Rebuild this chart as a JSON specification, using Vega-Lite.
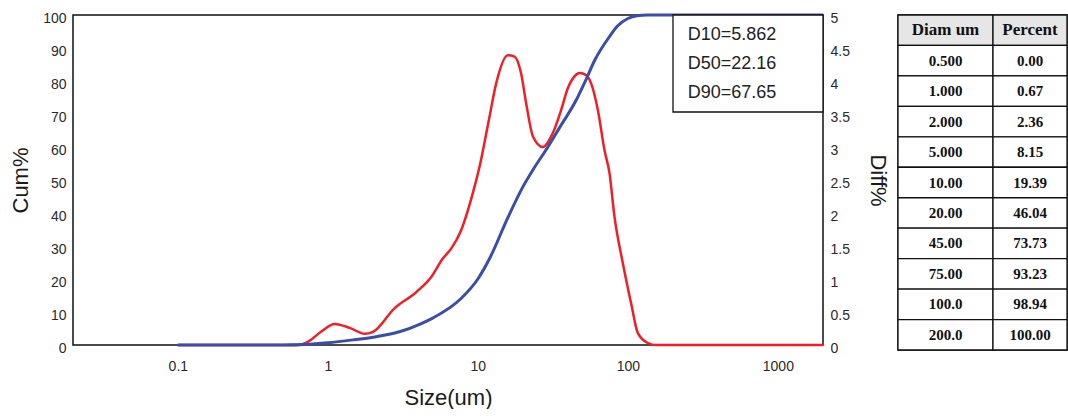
{
  "$schema": "https://vega.github.io/schema/vega-lite/v6.json",
  "padding": {"left": 8, "top": 8, "right": 0, "bottom": 0},
  "background": "white",
  "config": {
    "view": {"stroke": "#111", "strokeWidth": 1.5},
    "axis": {"labelFont": "Liberation Sans", "labelFontSize": 14, "labelColor": "#2a2a2a", "titleFont": "Liberation Sans", "titleFontSize": 22, "titleFontWeight": "normal", "titleColor": "#1a1a1a", "ticks": false, "domain": false, "grid": false}
  },
  "datasets": {
    "cum": [
      {"size": 0.1, "cum": 0}, {"size": 0.5, "cum": 0}, {"size": 0.7, "cum": 0.15}, {"size": 1.0, "cum": 0.67},
      {"size": 1.5, "cum": 1.6}, {"size": 2.0, "cum": 2.36}, {"size": 3.0, "cum": 4.0}, {"size": 4.2, "cum": 6.5},
      {"size": 5.0, "cum": 8.15}, {"size": 7.7, "cum": 14.0}, {"size": 10, "cum": 20.0}, {"size": 12, "cum": 26.3},
      {"size": 15.85, "cum": 38.6}, {"size": 20, "cum": 48.0}, {"size": 24, "cum": 54.0}, {"size": 29.3, "cum": 60.0},
      {"size": 35, "cum": 65.8}, {"size": 45, "cum": 74.0}, {"size": 52.7, "cum": 80.5}, {"size": 60, "cum": 86.2},
      {"size": 75, "cum": 93.3}, {"size": 85, "cum": 96.6}, {"size": 100, "cum": 98.94}, {"size": 115, "cum": 99.8},
      {"size": 135, "cum": 100}, {"size": 200, "cum": 100}, {"size": 2000, "cum": 100}
    ],
    "diff": [
      {"size": 0.1, "diff": 0}, {"size": 0.63, "diff": 0}, {"size": 0.75, "diff": 0.06}, {"size": 0.9, "diff": 0.2},
      {"size": 1.11, "diff": 0.32}, {"size": 1.4, "diff": 0.26}, {"size": 1.76, "diff": 0.17}, {"size": 2.0, "diff": 0.2},
      {"size": 2.78, "diff": 0.556}, {"size": 3.88, "diff": 0.8}, {"size": 4.89, "diff": 1.03}, {"size": 5.84, "diff": 1.31},
      {"size": 6.64, "diff": 1.46}, {"size": 7.74, "diff": 1.74}, {"size": 9.26, "diff": 2.3}, {"size": 10.26, "diff": 2.7},
      {"size": 11.96, "diff": 3.46}, {"size": 13.24, "diff": 3.96}, {"size": 15.85, "diff": 4.39}, {"size": 17.55, "diff": 4.37},
      {"size": 19.4, "diff": 4.12}, {"size": 21.0, "diff": 3.66}, {"size": 23.3, "diff": 3.16}, {"size": 27.1, "diff": 3.0},
      {"size": 31.6, "diff": 3.21}, {"size": 35.9, "diff": 3.56}, {"size": 39.8, "diff": 3.89}, {"size": 44.1, "diff": 4.07},
      {"size": 47.6, "diff": 4.12}, {"size": 52.7, "diff": 4.09}, {"size": 57, "diff": 3.96}, {"size": 63.1, "diff": 3.56},
      {"size": 69.9, "diff": 2.95}, {"size": 75.5, "diff": 2.6}, {"size": 81.5, "diff": 1.94}, {"size": 92.6, "diff": 1.24},
      {"size": 105.2, "diff": 0.63}, {"size": 116.6, "diff": 0.18}, {"size": 136, "diff": 0.03}, {"size": 154.5, "diff": 0},
      {"size": 2000, "diff": 0}
    ],
    "stats": [
      {"label": "D10=5.862\nD50=22.16\nD90=67.65"}
    ],
    "table": [
      {"diam": "Diam um", "percent": "Percent"},
      {"diam": "0.500", "percent": "0.00"},
      {"diam": "1.000", "percent": "0.67"},
      {"diam": "2.000", "percent": "2.36"},
      {"diam": "5.000", "percent": "8.15"},
      {"diam": "10.00", "percent": "19.39"},
      {"diam": "20.00", "percent": "46.04"},
      {"diam": "45.00", "percent": "73.73"},
      {"diam": "75.00", "percent": "93.23"},
      {"diam": "100.0", "percent": "98.94"},
      {"diam": "200.0", "percent": "100.00"}
    ]
  },
  "hconcat": [
    {
      "width": 750,
      "height": 330,
      "layer": [
        {
          "data": {"name": "diff"},
          "mark": {"type": "line", "color": "#ee1f26", "strokeWidth": 2.5, "interpolate": "monotone"},
          "encoding": {
            "x": {"field": "size", "type": "quantitative", "scale": {"type": "log", "domain": [0.02, 2000], "nice": false},
                  "axis": {"values": [0.1, 1, 10, 100, 1000], "format": "~g", "title": "Size(um)", "labelPadding": 14, "titlePadding": 14, "labelFlush": false}},
            "y": {"field": "diff", "type": "quantitative", "scale": {"domain": [0, 5], "nice": false, "zero": true},
                  "axis": {"orient": "right", "values": [0, 0.5, 1, 1.5, 2, 2.5, 3, 3.5, 4, 4.5, 5], "format": "~g", "title": "Diff%", "labelPadding": 7, "labelOffset": 3, "titlePadding": 16, "labelFlush": false}}
          }
        },
        {
          "data": {"name": "cum"},
          "mark": {"type": "line", "color": "#3a4ea8", "strokeWidth": 3, "interpolate": "monotone"},
          "encoding": {
            "x": {"field": "size", "type": "quantitative"},
            "y": {"field": "cum", "type": "quantitative", "scale": {"domain": [0, 100], "nice": false},
                  "axis": {"orient": "left", "values": [0, 10, 20, 30, 40, 50, 60, 70, 80, 90, 100], "title": "Cum%", "labelPadding": 7, "labelOffset": 3, "titlePadding": 10, "labelFlush": false}}
          }
        },
        {
          "data": {"values": [{}]},
          "mark": {"type": "rect", "fill": "white", "stroke": "#111", "strokeWidth": 1.3},
          "encoding": {
            "x": {"datum": 200, "type": "quantitative"},
            "x2": {"datum": 2000},
            "y": {"datum": 70.6, "type": "quantitative", "scale": {"domain": [0, 100], "nice": false}, "axis": null},
            "y2": {"datum": 100}
          }
        },
        {
          "data": {"name": "stats"},
          "mark": {"type": "text", "align": "left", "baseline": "middle", "font": "Liberation Sans", "fontSize": 18, "color": "#222", "lineBreak": "\n", "lineHeight": 29},
          "encoding": {
            "x": {"datum": 251, "type": "quantitative"},
            "y": {"datum": 93.9, "type": "quantitative", "scale": {"domain": [0, 100], "nice": false}, "axis": null},
            "text": {"field": "label", "type": "nominal"}
          }
        }
      ],
      "resolve": {"scale": {"y": "independent"}, "axis": {"y": "independent"}}
    },
    {
      "width": 169,
      "height": 335,
      "data": {"name": "table"},
      "layer": [
        {
          "mark": {"type": "rect", "stroke": "#111", "strokeWidth": 1.3},
          "encoding": {
            "x": {"datum": 0, "type": "quantitative", "scale": {"domain": [0, 169], "nice": false, "zero": false}, "axis": null},
            "x2": {"datum": 95},
            "y": {"field": "diam", "type": "ordinal", "sort": null, "scale": {"paddingInner": 0, "paddingOuter": 0}, "axis": null},
            "fill": {"condition": {"test": "datum.diam === 'Diam um'", "value": "#e6e6e6"}, "value": "white"}
          }
        },
        {
          "mark": {"type": "rect", "stroke": "#111", "strokeWidth": 1.3},
          "encoding": {
            "x": {"datum": 95, "type": "quantitative"},
            "x2": {"datum": 169},
            "y": {"field": "diam", "type": "ordinal", "sort": null},
            "fill": {"condition": {"test": "datum.diam === 'Diam um'", "value": "#e6e6e6"}, "value": "white"}
          }
        },
        {
          "mark": {"type": "text", "align": "center", "baseline": "middle", "font": "Liberation Serif", "fontWeight": "bold", "color": "#111"},
          "encoding": {
            "x": {"datum": 47.5, "type": "quantitative"},
            "y": {"field": "diam", "type": "ordinal", "sort": null, "band": 0.5},
            "text": {"field": "diam", "type": "nominal"},
            "size": {"condition": {"test": "datum.diam === 'Diam um'", "value": 17}, "value": 15}
          }
        },
        {
          "mark": {"type": "text", "align": "center", "baseline": "middle", "font": "Liberation Serif", "fontWeight": "bold", "color": "#111"},
          "encoding": {
            "x": {"datum": 132, "type": "quantitative"},
            "y": {"field": "diam", "type": "ordinal", "sort": null, "band": 0.5},
            "text": {"field": "percent", "type": "nominal"},
            "size": {"condition": {"test": "datum.diam === 'Diam um'", "value": 17}, "value": 15}
          }
        }
      ]
    }
  ],
  "spacing": 6
}
